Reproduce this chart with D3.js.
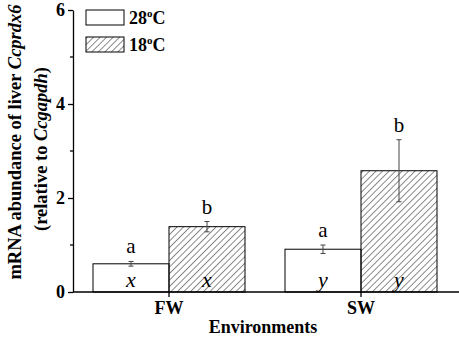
<!DOCTYPE html>
<html>
<head>
<meta charset="utf-8">
<script src="https://cdn.jsdelivr.net/npm/d3@7"></script>
<style>
  body { margin: 0; background: #fff; }
  svg text { font-family: "Liberation Serif", "Times New Roman", serif; fill: #000; }
</style>
</head>
<body>
<svg id="chart" width="459" height="339"></svg>
<script>
// Data
var groups = ["FW", "SW"];
var series = ["28", "18"];
var means = { FW: [0.60, 1.39], SW: [0.91, 2.58] };
var errs = { FW: [0.05, 0.11], SW: [0.09, 0.66] };
var letters = { FW: ["a", "b"], SW: ["a", "b"] };
var envLetters = { FW: ["x", "x"], SW: ["y", "y"] };
var yTicks = [0, 2, 4, 6];
var yMinor = [1, 3, 5];

var svg = d3.select("#chart");

// hatch pattern
var defs = svg.append("defs");
defs.append("pattern")
    .attr("id", "hatch")
    .attr("patternUnits", "userSpaceOnUse")
    .attr("width", 4.6).attr("height", 4.6)
    .attr("patternTransform", "rotate(45)")
  .append("line")
    .attr("x1", 0).attr("y1", 0).attr("x2", 0).attr("y2", 4.6)
    .attr("stroke", "#000").attr("stroke-width", 0.9);

var x = d3.scaleBand().domain(groups).range([73, 457]);
var xs = d3.scaleBand().domain(series).range([-76, 76]);
var y = d3.scaleLinear().domain([0, 6]).range([292, 10]);

// bars
groups.forEach(function(g) {
    series.forEach(function(s, i) {
        var cx = x(g) + x.bandwidth() / 2;
        var x0 = cx + xs(s);
        svg.append("rect")
            .attr("x", x0).attr("y", y(means[g][i]))
            .attr("width", xs.bandwidth()).attr("height", y(0) - y(means[g][i]))
            .attr("fill", i === 0 ? "#fff" : "url(#hatch)")
            .attr("stroke", "#000").attr("stroke-width", 1);

        var ex = x0 + xs.bandwidth() / 2;
        var top = y(means[g][i] + errs[g][i]);
        var bot = y(means[g][i] - errs[g][i]);
        var eg = svg.append("g").attr("stroke", "#444").attr("stroke-width", 1);
        eg.append("line").attr("x1", ex).attr("x2", ex).attr("y1", top).attr("y2", bot);
        eg.append("line").attr("x1", ex - 2.5).attr("x2", ex + 2.5).attr("y1", top).attr("y2", top);
        eg.append("line").attr("x1", ex - 2.5).attr("x2", ex + 2.5).attr("y1", bot).attr("y2", bot);

        svg.append("text")
            .attr("x", ex).attr("y", top - 8)
            .attr("text-anchor", "middle")
            .style("font-size", "21px")
            .text(letters[g][i]);

        svg.append("text")
            .attr("x", ex).attr("y", 287)
            .attr("text-anchor", "middle")
            .style("font-size", "22px").style("font-style", "italic")
            .text(envLetters[g][i]);
    });
});

// y axis
var yAxis = d3.axisLeft(y).tickValues(yTicks).tickFormat(d3.format("d"))
    .tickSize(5).tickSizeOuter(0).tickPadding(3);
var gy = svg.append("g").attr("transform", "translate(73,0)").call(yAxis);
gy.select(".domain").attr("stroke-width", 1.3);
gy.selectAll(".tick line").attr("stroke-width", 1.3);
gy.selectAll("text")
    .style("font-family", "Liberation Serif").style("font-size", "18px").style("font-weight", "bold");
gy.selectAll(".minor").data(yMinor).enter().append("line")
    .attr("class", "minor")
    .attr("x1", -3).attr("x2", 0)
    .attr("y1", function(d) { return y(d); }).attr("y2", function(d) { return y(d); })
    .attr("stroke", "#000").attr("stroke-width", 1.3);

// x axis
var xAxis = d3.axisBottom(x).tickSize(5).tickSizeOuter(0).tickPadding(4);
var gx = svg.append("g").attr("transform", "translate(0,292)").call(xAxis);
gx.select(".domain").attr("d", "M73,0H459").attr("stroke-width", 1.3);
gx.selectAll(".tick line").attr("stroke-width", 1.3);
gx.selectAll("text")
    .style("font-family", "Liberation Serif").style("font-size", "18px").style("font-weight", "bold");

svg.append("text")
    .attr("x", 263).attr("y", 333)
    .attr("text-anchor", "middle")
    .style("font-size", "18px").style("font-weight", "bold")
    .text("Environments");

// y label
var yl = svg.append("text")
    .attr("transform", "translate(21,142) rotate(-90)")
    .attr("text-anchor", "middle")
    .style("font-size", "18.5px").style("font-weight", "bold");
yl.append("tspan").text("mRNA abundance of liver ");
yl.append("tspan").style("font-style", "italic").text("Ccprdx6");

var yl2 = svg.append("text")
    .attr("transform", "translate(47,149) rotate(-90)")
    .attr("text-anchor", "middle")
    .style("font-size", "18.5px").style("font-weight", "bold");
yl2.append("tspan").text("(relative to ");
yl2.append("tspan").style("font-style", "italic").text("Ccgapdh");
yl2.append("tspan").text(")");

// legend
var legend = svg.append("g");
series.forEach(function(s, i) {
    var ly = 10 + i * 27;
    legend.append("rect")
        .attr("x", 86).attr("y", ly).attr("width", 38).attr("height", 15)
        .attr("fill", i === 0 ? "#fff" : "url(#hatch)")
        .attr("stroke", "#000").attr("stroke-width", 1);
    var t = legend.append("text")
        .attr("x", 129).attr("y", ly + 14)
        .style("font-size", "18px").style("font-weight", "bold");
    t.append("tspan").text(s);
    t.append("tspan").attr("dy", -7).style("font-size", "11px").text("o");
    t.append("tspan").attr("dy", 7).text("C");
});
</script>
</body>
</html>
